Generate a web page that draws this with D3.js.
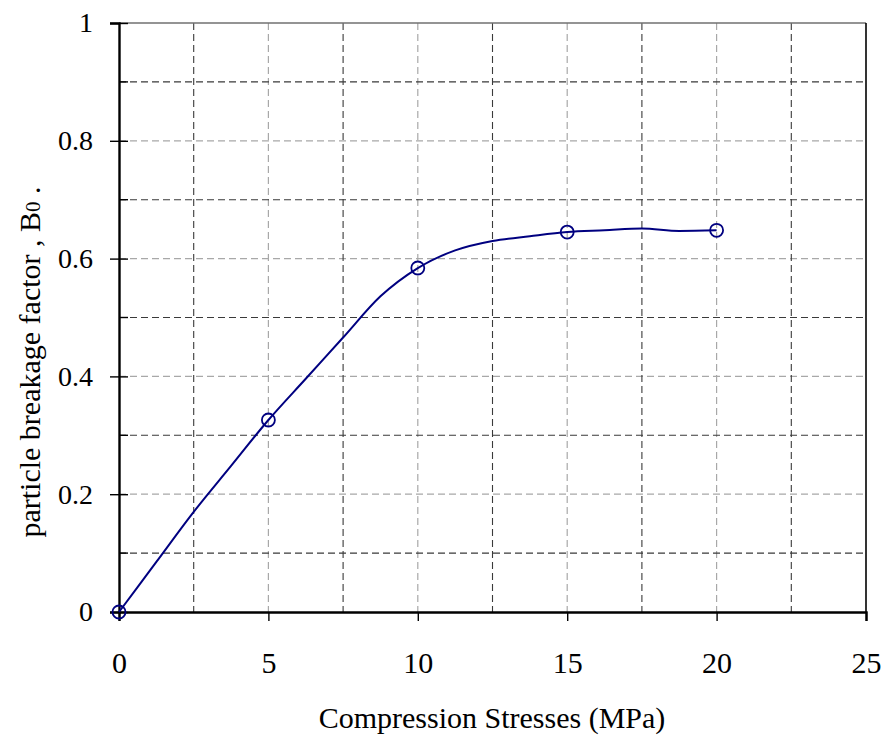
<!DOCTYPE html>
<html>
<head>
<meta charset="utf-8">
<script src="https://cdn.jsdelivr.net/npm/d3@7/dist/d3.min.js"></script>
<style>
  body { margin: 0; background: #fff; }
  svg text { font-family: "Liberation Serif", "Times New Roman", serif; fill: #000; }
</style>
</head>
<body>
<svg id="chart" width="885" height="740"></svg>
<script>
// Measured points (markers)
const stressPoints = [0, 5, 10, 15, 20];
const breakagePoints = [0, 0.326, 0.584, 0.645, 0.648];

// Smoothed trend line through the measurements
const curveStress = [0, 1.25, 2.5, 3.75, 5, 6.25, 7.5, 8.75, 10, 11.25, 12.5, 13.75, 15, 16.25, 17.5, 18.75, 20];
const curveBreakage = [0, 0.085, 0.170, 0.248, 0.326, 0.396, 0.466, 0.536, 0.584, 0.614, 0.630, 0.638, 0.645, 0.648, 0.651, 0.647, 0.648];

const xTicks = [0, 5, 10, 15, 20, 25];
const yTicks = [0, 0.2, 0.4, 0.6, 0.8, 1];
const xMinor = [2.5, 7.5, 12.5, 17.5, 22.5];
const yMinor = [0.1, 0.3, 0.5, 0.7, 0.9];

const svg = d3.select("#chart");
const plotL = 119, plotR = 866, plotT = 23, plotB = 612;

const x = d3.scaleLinear().domain([0, 25]).range([plotL, plotR]);
const y = d3.scaleLinear().domain([0, 1]).range([plotB, plotT]);

const grid = svg.append("g");
// major gridlines (light grey dashes)
grid.selectAll(".vmaj").data(xTicks.filter(d => d > 0 && d < 25)).join("line")
  .attr("x1", d => x(d)).attr("x2", d => x(d)).attr("y1", plotT).attr("y2", plotB)
  .attr("stroke", "#a8a8a8").attr("stroke-width", 1.2).attr("stroke-dasharray", "7,4");
grid.selectAll(".hmaj").data(yTicks.filter(d => d > 0 && d < 1)).join("line")
  .attr("y1", d => y(d)).attr("y2", d => y(d)).attr("x1", plotL).attr("x2", plotR)
  .attr("stroke", "#a8a8a8").attr("stroke-width", 1.2).attr("stroke-dasharray", "7,4");
// minor gridlines (dark dashes)
grid.selectAll(".vmin").data(xMinor).join("line")
  .attr("x1", d => x(d)).attr("x2", d => x(d)).attr("y1", plotT).attr("y2", plotB)
  .attr("stroke", "#3a3a3a").attr("stroke-width", 1.1).attr("stroke-dasharray", "7,4");
grid.selectAll(".hmin").data(yMinor).join("line")
  .attr("y1", d => y(d)).attr("y2", d => y(d)).attr("x1", plotL).attr("x2", plotR)
  .attr("stroke", "#3a3a3a").attr("stroke-width", 1.1).attr("stroke-dasharray", "7,4");

// frame: top and right edges
svg.append("line").attr("x1", plotL).attr("x2", plotR).attr("y1", y(1)).attr("y2", y(1))
  .attr("stroke", "#707070").attr("stroke-width", 1.6);
svg.append("line").attr("x1", x(25)).attr("x2", x(25)).attr("y1", plotT).attr("y2", plotB)
  .attr("stroke", "#000").attr("stroke-width", 1.6);

// axes
const xAxis = d3.axisBottom(x).tickValues(xTicks).tickSize(9).tickPadding(0).tickFormat(d3.format("d"));
const yAxis = d3.axisLeft(y).tickValues(yTicks).tickSize(9).tickPadding(17)
  .tickFormat(d => d === 0 || d === 1 ? d3.format("d")(d) : d3.format(".1f")(d));

const gx = svg.append("g").attr("transform", `translate(0,${plotB})`).call(xAxis);
const gy = svg.append("g").attr("transform", `translate(${plotL},0)`).call(yAxis);
[gx, gy].forEach(g => {
  g.select(".domain").attr("stroke", "#000").attr("stroke-width", 2.4);
  g.selectAll(".tick line").attr("stroke", "#000").attr("stroke-width", 1.4);
  g.selectAll(".tick text").attr("fill", "#000");
});
gx.selectAll(".tick text").attr("font-size", 30).attr("y", 61).attr("dy", 0);
gy.selectAll(".tick text").attr("font-size", 28);
// y major ticks cross the axis; minor ticks point inward
gy.selectAll(".tick line").attr("x2", -9).attr("x1", 9);
gy.selectAll(".minor").data(yMinor).join("line").attr("class", "minor")
  .attr("x1", 0).attr("x2", 9).attr("y1", d => y(d)).attr("y2", d => y(d))
  .attr("stroke", "#000").attr("stroke-width", 1.4);

// trend line
const line = d3.line().x(d => x(d[0])).y(d => y(d[1])).curve(d3.curveMonotoneX);
svg.append("path")
  .datum(curveStress.map((s, i) => [s, curveBreakage[i]]))
  .attr("d", line).attr("fill", "none").attr("stroke", "#000080").attr("stroke-width", 2);

// markers
svg.selectAll(".pt").data(stressPoints.map((s, i) => [s, breakagePoints[i]])).join("circle")
  .attr("cx", d => x(d[0])).attr("cy", d => y(d[1])).attr("r", 6.5)
  .attr("fill", "none").attr("stroke", "#000080").attr("stroke-width", 1.8);

// axis titles
svg.append("text").attr("x", 492).attr("y", 728).attr("text-anchor", "middle")
  .attr("font-size", 30).text("Compression Stresses (MPa)");

const yl = svg.append("text").attr("transform", "translate(40,362) rotate(-90)")
  .attr("text-anchor", "middle").attr("font-size", 30);
yl.append("tspan").text("particle breakage factor , B");
yl.append("tspan").attr("font-size", 21).text("0");
yl.append("tspan").text(" .");
</script>
</body>
</html>
